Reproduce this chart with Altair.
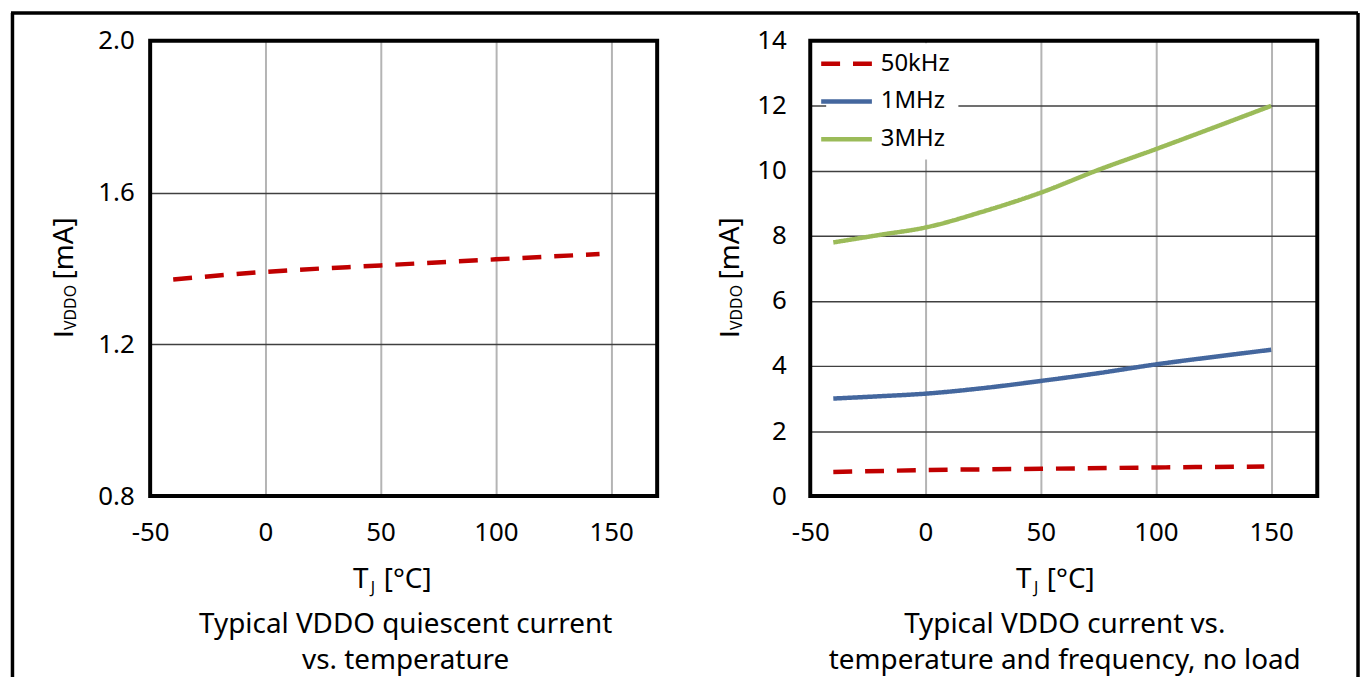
import altair as alt
import pandas as pd

FONT = "Noto Sans"
RED = "#c00000"
BLUE = "#44679e"
GREEN = "#9bbb59"

# ---- data ----
t_quiescent = [-40, 0, 50, 100, 145]
i_quiescent = [1.371, 1.391, 1.408, 1.424, 1.438]

t_50k = [-40, 0, 50, 100, 147]
i_50k = [0.74, 0.80, 0.84, 0.88, 0.91]

t_curve = [-40, -20, 0, 25, 50, 75, 100, 125, 150]
i_1m = [3.00, 3.07, 3.15, 3.32, 3.54, 3.78, 4.05, 4.28, 4.50]
i_3m = [7.80, 8.03, 8.26, 8.75, 9.33, 10.03, 10.67, 11.33, 12.00]

series_names = ["50kHz", "1MHz", "3MHz"]
series_colors = [RED, BLUE, GREEN]

x_ticks = [-50, 0, 50, 100, 150]
y_ticks_left = [0.8, 1.2, 1.6, 2.0]
y_ticks_right = [0, 2, 4, 6, 8, 10, 12, 14]

title_left = ["Typical VDDO quiescent current", "vs. temperature"]
title_right = ["Typical VDDO current vs.", "temperature and frequency, no load"]

W, H = 510, 458

df_left = pd.DataFrame({"T": t_quiescent, "I": i_quiescent})
df_right = pd.concat([
    pd.DataFrame({"T": t_50k, "I": i_50k, "series": "50kHz"}),
    pd.DataFrame({"T": t_curve, "I": i_1m, "series": "1MHz"}),
    pd.DataFrame({"T": t_curve, "I": i_3m, "series": "3MHz"}),
], ignore_index=True)


def one():
    return alt.Chart(pd.DataFrame({"_": [0]}))


def txt(text, x, y, size, font=FONT, **kw):
    return one().mark_text(text=text, font=font, fontSize=size, color="black",
                           baseline="alphabetic", **kw).encode(
        x=alt.value(x), y=alt.value(y))


def frame():
    return one().mark_rect(fillOpacity=0, stroke="black", strokeWidth=4).encode(
        x=alt.value(0), x2=alt.value(W), y=alt.value(0), y2=alt.value(H))


def x_axis():
    return alt.Axis(values=x_ticks, title=None, grid=True, gridColor="#b4b4b4",
                    gridWidth=2, domain=False, ticks=False, tickSize=0,
                    labelFlush=False, labelPadding=24, labelFontSize=26,
                    labelFont=FONT, labelColor="black",
                    labelExpr="'' + datum.value")


def y_axis(values, fmt, pad):
    return alt.Axis(values=values, title=None, grid=True, gridColor="#404040",
                    gridWidth=1.5, domain=False, ticks=False, tickSize=0,
                    labelFlush=False, labelPadding=pad, labelFontSize=26,
                    labelFont=FONT, labelColor="black", labelExpr=fmt)


def ytitle(xb):
    return [
        txt("I", xb, 299, 28, font="Liberation Sans", angle=270, align="left"),
        txt("VDDO", xb + 3, 291, 16, angle=270, align="left"),
        txt("[mA]", xb, 240, 28, angle=270, align="left"),
    ]


def xtitle(x0):
    return [
        txt("T", x0, 550, 28, align="left"),
        txt("J", x0 + 18, 555, 16, align="left"),
        txt("[°C]", x0 + 31, 550, 28, align="left"),
    ]


def titles(cx, lines):
    return [txt(lines[0], cx, 596, 28, align="center"),
            txt(lines[1], cx, 632, 28, align="center")]


xscale = alt.Scale(domain=[-50, 170], nice=False, zero=False)

left_line = alt.Chart(df_left).mark_line(
    color=RED, strokeWidth=4.5, strokeDash=[19, 13], interpolate="monotone"
).encode(
    x=alt.X("T:Q", scale=xscale, axis=x_axis()),
    y=alt.Y("I:Q", scale=alt.Scale(domain=[0.8, 2.0], nice=False, zero=False),
            axis=y_axis(y_ticks_left, "format(datum.value, '.1f')", 16)),
)

border_left = one().mark_rule(color="black", strokeWidth=3.5).encode(
    x=alt.value(-138.5), y=alt.value(-28), y2=alt.value(640))
border_top = one().mark_rule(color="black", strokeWidth=3.5).encode(
    x=alt.value(-140), x2=alt.value(1215), y=alt.value(-28))

left = alt.layer(
    left_line, frame(), *ytitle(-78), *xtitle(204), *titles(257, title_left),
    border_left, border_top,
).properties(width=W, height=H)

leg = alt.Legend(title=None, orient="none", legendX=16, legendY=2.5,
                 symbolType="M-2.55,0H2.55", symbolSize=400, symbolStrokeWidth=4.5,
                 labelFontSize=24, labelFont=FONT, labelColor="black",
                 fillColor="white", padding=8, rowPadding=13, labelOffset=22)

right_lines = alt.Chart(df_right).mark_line(
    strokeWidth=4.5, interpolate="monotone"
).encode(
    x=alt.X("T:Q", scale=xscale, axis=x_axis()),
    y=alt.Y("I:Q", scale=alt.Scale(domain=[0, 14], nice=False, zero=False),
            axis=y_axis(y_ticks_right, "'' + datum.value", 24)),
    color=alt.Color("series:N", scale=alt.Scale(domain=series_names, range=series_colors),
                    legend=leg),
    strokeDash=alt.StrokeDash("series:N",
                              scale=alt.Scale(domain=series_names,
                                              range=[[19, 13], [1, 0], [1, 0]]),
                              legend=leg),
)

border_right = one().mark_rule(color="black", strokeWidth=3.5).encode(
    x=alt.value(551), y=alt.value(-28), y2=alt.value(640))

right = alt.layer(
    right_lines, frame(), *ytitle(-72), *xtitle(207), *titles(256, title_right),
    border_right,
).properties(width=W, height=H)

chart = alt.hconcat(left, right, spacing=154, bounds="flush").resolve_legend(
    color="independent", strokeDash="independent"
).properties(
    padding=0
).configure_view(stroke="transparent").configure(background="white")

chart.save("out.html", embed_options={"renderer": "svg", "actions": False})
